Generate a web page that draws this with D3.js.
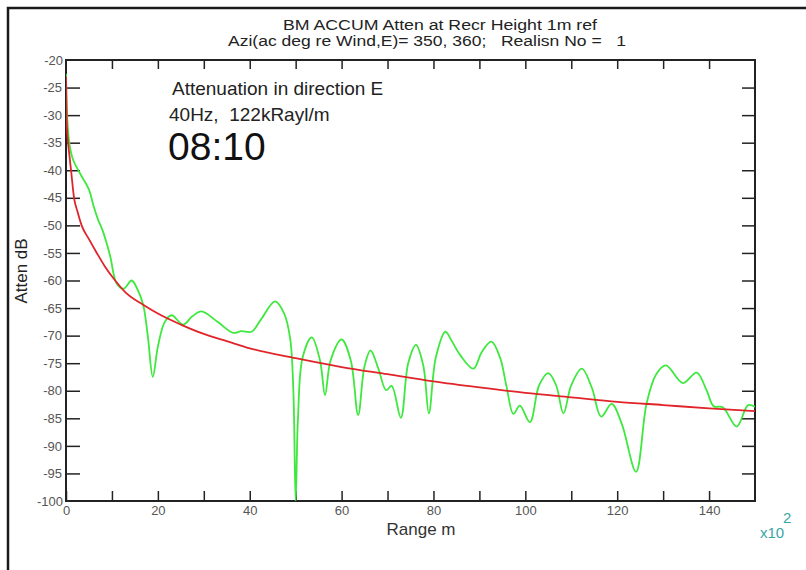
<!DOCTYPE html>
<html>
<head>
<meta charset="utf-8">
<script src="https://cdn.jsdelivr.net/npm/d3@7"></script>
<style>
  body { margin: 0; background: #fff; }
  svg { font-family: Arial, "Liberation Sans", sans-serif; }
</style>
</head>
<body>
<svg width="806" height="570"></svg>
<script>
// range in units of 100 m, attenuation in dB
var xTicks = [0, 10, 20, 30, 40, 50, 60, 70, 80, 90, 100, 110, 120, 130, 140, 150];
var yTicks = [-20, -25, -30, -35, -40, -45, -50, -55, -60, -65, -70, -75, -80, -85, -90, -95, -100];

// red curve (reference spreading)
var refRange = [0, 0.15, 0.4, 0.7, 1.1, 1.75, 2.5, 3.4, 5, 6.7, 8.5, 10.7, 13, 16.8, 20, 25, 30, 35, 40, 50,
                60, 70, 80, 90, 100, 110, 120, 130, 140, 150];
var refAtten = [-23, -31, -34.5, -37, -40, -45, -47.5, -50, -52.5, -55, -57.5, -60, -62.2, -64.4, -66, -68, -69.7, -71, -72.3, -74.1,
                -75.7, -77, -78.3, -79.4, -80.4, -81.2, -82, -82.6, -83.2, -83.7];

// green curve (accumulated attenuation)
var accRange = [0, 0.3, 0.8, 1.5, 3, 5, 6, 7, 8, 9.6, 11, 12.5, 14.3, 15.5, 16.8, 17.8, 18.9, 20, 21.5, 23,
                25.5, 27.5, 29.5, 33, 36.4, 38.2, 40.4, 42.5, 45.5, 47.5, 48.8, 49.5, 50, 50.5, 51.5, 53.5, 55.3, 56.4, 57.6, 60,
                62, 63.6, 65, 66.3, 68, 69.7, 70.9, 72.9, 74.5, 76.2, 77.8, 79, 80.5, 82.6, 84, 85.8, 88.7, 90.5, 92.6, 94.5,
                95.9, 97.4, 98.8, 101, 103, 105, 106.7, 108.3, 110, 112.3, 114.5, 116.5, 118.8, 121, 124.1, 126.4, 128.5, 130.6, 134.3, 137.3,
                139.5, 141, 143, 146, 148.5, 150];
var accAtten = [-22.5, -31, -35.5, -38, -40.5, -43.5, -46.5, -49, -51, -55.5, -60.5, -61.5, -60, -61.5, -64.4, -70, -77.5, -72, -67.5, -66.3,
                -68, -66.5, -65.6, -67.5, -69.5, -69.2, -69.3, -67, -63.8, -66, -70.5, -80, -100, -85, -74, -70.3, -74.5, -80.8, -74.5, -70.7,
                -74.5, -84.4, -75.5, -72.7, -76, -79.9, -79.1, -84.9, -75, -71.7, -75.5, -84.1, -74, -69.3, -71, -73.5, -76, -73, -71.1, -74,
                -79.2, -84.2, -82.7, -85.7, -79, -76.8, -79, -84.1, -79, -76, -79.5, -84.7, -82.4, -86, -94.7, -82.3, -77, -75.4, -78.6, -76.7,
                -80, -82.8, -83, -86.5, -82.6, -82.9];

var svg = d3.select("svg"),
    margin = {top: 60, right: 51, bottom: 69, left: 66},
    width = +svg.attr("width") - margin.left - margin.right,
    height = +svg.attr("height") - margin.top - margin.bottom;

var x = d3.scaleLinear().domain([0, 150]).range([0, width]),
    y = d3.scaleLinear().domain([-20, -100]).range([0, height]);

// plain hyphen for negatives, like the original plot
var fmt = function(d) { return String(d); };

// outer frame (top and left edges only)
svg.append("path")
    .attr("d", "M8,570V8H806")
    .attr("fill", "none")
    .attr("stroke", "#1a1a1a")
    .attr("stroke-width", 2.5);

// titles (the original is drawn a bit wide)
svg.append("text")
    .attr("x", 283).attr("y", 30)
    .attr("textLength", 314).attr("lengthAdjust", "spacingAndGlyphs")
    .style("font-size", "14px").style("fill", "#222")
    .text("BM ACCUM Atten at Recr Height 1m ref");
svg.append("text")
    .attr("x", 228).attr("y", 46)
    .attr("textLength", 398).attr("lengthAdjust", "spacingAndGlyphs")
    .attr("xml:space", "preserve")
    .style("white-space", "pre")
    .style("font-size", "14px").style("fill", "#222")
    .text("Azi(ac deg re Wind,E)= 350, 360;   Realisn No =   1");

var g = svg.append("g")
    .attr("transform", "translate(" + margin.left + "," + margin.top + ")");

g.append("clipPath").attr("id", "plotclip")
  .append("rect").attr("width", width).attr("height", height);

// axes, ticks pointing inward
g.append("g")
    .attr("class", "axis axis--x")
    .attr("transform", "translate(0," + height + ")")
    .call(d3.axisBottom(x).tickValues(xTicks.slice(0, -1)).tickSize(-10).tickPadding(5)
      .tickFormat(function(d) { return d % 20 === 0 ? fmt(d) : ""; }));

g.append("g")
    .attr("class", "axis axis--top")
    .call(d3.axisTop(x).tickValues(xTicks.slice(1, -1)).tickSize(-9).tickFormat(""));

g.append("g")
    .attr("class", "axis axis--y")
    .call(d3.axisLeft(y).tickValues(yTicks.slice(1, -1)).tickSize(-14).tickPadding(4).tickFormat(fmt));

// end labels on y (drawn without tick marks)
g.append("g")
    .attr("class", "axis axis--yend")
    .call(d3.axisLeft(y).tickValues([yTicks[0], yTicks[yTicks.length - 1]]).tickSize(0).tickPadding(3).tickFormat(fmt));

g.append("g")
    .attr("class", "axis axis--right")
    .attr("transform", "translate(" + width + ",0)")
    .call(d3.axisRight(y).tickValues(yTicks.slice(1, -1)).tickSize(-13).tickFormat(""));

g.selectAll(".axis .domain").remove();
g.selectAll(".axis line").attr("stroke", "#222").attr("stroke-width", 1.5);
g.selectAll(".axis text")
    .style("font-family", "Arial, 'Liberation Sans', sans-serif")
    .style("font-size", "13px")
    .style("fill", "#555");

// plot frame
g.append("rect")
    .attr("width", width).attr("height", height)
    .attr("fill", "none")
    .attr("stroke", "#222")
    .attr("stroke-width", 2);

var refData = refRange.map(function(r, i) { return [r, refAtten[i]]; });
var accData = accRange.map(function(r, i) { return [r, accAtten[i]]; });

var line = d3.line()
    .x(function(d) { return x(d[0]); })
    .y(function(d) { return y(d[1]); });

g.append("path")
    .datum(accData)
    .attr("clip-path", "url(#plotclip)")
    .attr("fill", "none")
    .attr("stroke", "#3ee83e")
    .attr("stroke-width", 1.8)
    .attr("d", line.curve(d3.curveCatmullRom.alpha(0.5)));

g.append("path")
    .datum(refData)
    .attr("clip-path", "url(#plotclip)")
    .attr("fill", "none")
    .attr("stroke", "#e0242a")
    .attr("stroke-width", 1.8)
    .attr("d", line.curve(d3.curveMonotoneX));

// annotations
g.append("text").attr("x", 106).attr("y", 35)
    .style("font-size", "19px").style("fill", "#222")
    .text("Attenuation in direction E");
g.append("text").attr("x", 103).attr("y", 61)
    .attr("xml:space", "preserve").style("white-space", "pre")
    .style("font-size", "19px").style("fill", "#222")
    .text("40Hz,  122kRayl/m");
g.append("text").attr("x", 102).attr("y", 100)
    .style("font-size", "39px").style("fill", "#111")
    .text("08:10");

// axis titles
svg.append("text")
    .attr("x", 421).attr("y", 535)
    .attr("text-anchor", "middle")
    .style("font-size", "17px").style("fill", "#333")
    .text("Range m");

svg.append("text")
    .attr("transform", "translate(27,271) rotate(-90)")
    .attr("text-anchor", "middle")
    .style("font-size", "17px").style("fill", "#222")
    .text("Atten dB");

// x10^2 multiplier
svg.append("text")
    .attr("x", 760).attr("y", 538)
    .style("font-size", "15px").style("fill", "#3aa6a6")
    .text("x10");
svg.append("text")
    .attr("x", 783).attr("y", 523)
    .style("font-size", "15px").style("fill", "#3aa6a6")
    .text("2");
</script>
</body>
</html>
